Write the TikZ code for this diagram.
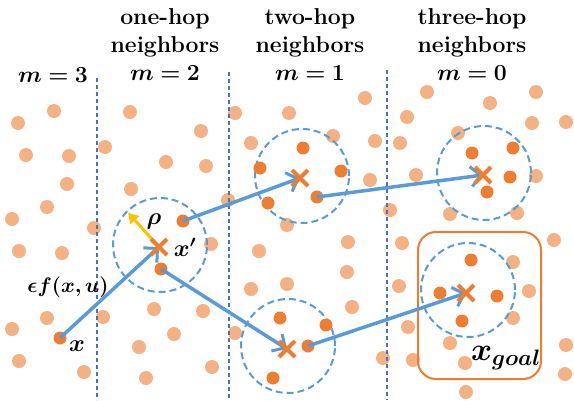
\RequirePackage{fix-cm}
\documentclass[tikz,border=0pt]{standalone}
\usepackage{amsmath,bm}
\usepackage{xcolor}
\usepackage{tikz}
\usetikzlibrary{arrows.meta,shapes.misc}
\definecolor{softorange}{RGB}{244,177,131}
\definecolor{hotorange}{RGB}{237,125,49}
\definecolor{linkblue}{RGB}{91,155,213}
\definecolor{splitblue}{RGB}{68,114,196}
\definecolor{radiusgold}{RGB}{255,192,0}
\tikzset{
  hot dot/.style={
    circle,
    fill=hotorange,
    minimum size=13pt,
    inner sep=0pt
  },
  xmark/.style={
    cross out,
    draw=hotorange,
    line width=4pt,
    minimum size=12pt,
    inner sep=0pt
  },
  reach/.style={
    draw=linkblue,
    line width=2pt,
    dash pattern=on 7pt off 4pt
  },
  split/.style={
    draw=splitblue,
    line width=1.1pt,
    dash pattern=on 4pt off 3pt
  },
  hop/.style={
    draw=linkblue,
    line width=3.5pt,
    -{Straight Barb[length=10pt,width=20pt,line width=3pt]}
  },
  radius arrow/.style={
    draw=radiusgold,
    line width=3pt,
    -{Triangle[length=10pt,width=12pt]}
  },
  head/.style={
    font=\fontsize{23}{28}\selectfont\bfseries,
    align=center
  },
  lbl/.style={
    font=\fontsize{24}{26}\selectfont,
    inner sep=1pt
  }
}

\begin{document}
\begin{tikzpicture}[x=1pt,y=-1pt]
  \useasboundingbox (0,0) rectangle (574,400);

  % Sampled states
  \foreach \px/\py in {18/123,54/111,26/155,69/156,67/184,47/207,12/219,94/228,
      19/251,62/253,47/318,12/329,19/361,84/372,
      130/112,105/147,166/162,131/189,201/131,206/166,103/317,154/309,174/334,
      139/347,146/378,211/244,203/311,212/367,228/200,
      235/113,289/113,365/98,251/143,333/136,375/141,370/180,287/225,259/251,
      348/242,347/272,287/284,251/289,352/307,235/333,383/358,390/210,
      427/92,536/92,490/103,407/117,532/123,566/122,458/133,400/143,416/175,
      536/176,450/214,517/213,402/243,554/240,513/262,399/286,529/291,
      408/327,513/318,450/343,465/363,413/360,566/345,565/374,466/392} {
    \fill[softorange] (\px,\py) circle (7pt);
  }

  % Hop borders
  \draw[split] (97,78) -- (97,400);
  \draw[split] (229,72) -- (229,400);
  \draw[split] (387,70) -- (387,400);

  % Column titles
  \node[head] (col3) at (53,75) {$\bm{m=3}$};
  \node[head] (col2) at (165,45) {one-hop\\neighbors\\$\bm{m=2}$};
  \node[head] (col1) at (310,45) {two-hop\\neighbors\\$\bm{m=1}$};
  \node[head] (col0) at (472,45) {three-hop\\neighbors\\$\bm{m=0}$};

  % Neighbourhood centres
  \coordinate (cx1) at (159,247);
  \coordinate (cx2) at (300,178);
  \coordinate (cx3) at (287,349);
  \coordinate (cx4) at (483,175);
  \coordinate (cgoal) at (466,293);

  % Goal region
  \draw[hotorange, line width=2pt, rounded corners=18pt] (418,232) rectangle (541,379);

  % Neighbourhoods
  \draw[reach] (160,245) circle (47pt);
  \draw[reach] (302,176) circle (47pt);
  \draw[reach] (288,346) circle (47pt);
  \draw[reach] (484,173) circle (47pt);
  \draw[reach] (468,290) circle (47pt);

  % Reached states
  \node[hot dot] (x0) at (60,338) {};
  \foreach \nm/\px/\py in {a1/183/221,a2/161/269,
      b1/303/148,b2/260/168,b3/341/171,b4/268/203,b5/317/197,
      c1/280/318,c2/326/325,c3/308/346,c4/273/378,
      d1/472/153,d2/513/148,d3/510/177,d4/487/192,
      g1/471/260,g2/440/293,g3/497/296,g4/462/321} {
    \node[hot dot] (\nm) at (\px,\py) {};
  }

  % Transitions
  \draw[hop] (x0.center) -- (cx1);
  \draw[hop] (a1.center) -- (cx2);
  \draw[hop] (a2.center) -- (cx3);
  \draw[hop] (b5.center) -- (cx4);
  \draw[hop] (c3.center) -- (cgoal);

  % Radius
  \path (cx1) ++(228:46) coordinate (rhotip);
  \draw[radius arrow] (cx1) -- (rhotip);

  \foreach \c in {cx1,cx2,cx3,cx4,cgoal} {
    \node[xmark] at (\c) {};
  }

  % Labels
  \node[lbl] (xlab) at (77,346) {$\bm{x}$};
  \node[lbl] (xplab) at (185,247) {$\bm{x'}$};
  \node[lbl] (rholab) at (154,221) {$\bm{\rho}$};
  \node[lbl, font=\fontsize{21}{24}\selectfont] (flab) at (68,287) {$\bm{\epsilon f(x,u)}$};
  \node[lbl, font=\fontsize{32}{32}\selectfont] (goallab) at (506,358) {$\bm{x_{goal}}$};

\end{tikzpicture}
\end{document}
